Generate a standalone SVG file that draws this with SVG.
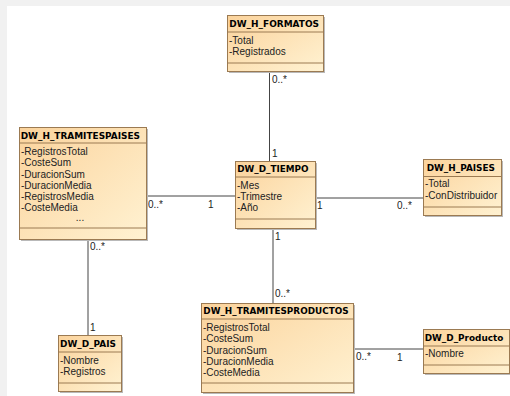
<svg xmlns="http://www.w3.org/2000/svg" width="510" height="396" viewBox="0 0 510 396">
<defs>
<linearGradient id="g" x1="0" y1="0" x2="1" y2="1">
<stop offset="0" stop-color="#fbd39c"/>
<stop offset="1" stop-color="#fff2d2"/>
</linearGradient>
</defs>
<style>
.box{fill:url(#g);stroke:#9b7a52;stroke-width:1}
.sh{fill:#b9b9b9}
.sep{stroke:#9b7a52;stroke-width:1}
.t{font-family:"DejaVu Sans",Verdana,sans-serif;font-size:9px;font-weight:bold;fill:#000}
.a{font-family:"Liberation Sans",Arial,sans-serif;font-size:10px;fill:#222}
.l{font-family:"Liberation Sans",Arial,sans-serif;font-size:10px;fill:#222}
.c{stroke:#444;stroke-width:1;fill:none}
</style>
<rect x="0" y="0" width="510" height="396" fill="#f1f1f1"/>
<rect x="7" y="6" width="503" height="390" fill="#ffffff"/>

<g id="connectors">
<line class="c" x1="269.5" y1="71" x2="269.5" y2="161"/>
<line class="c" x1="146" y1="196" x2="235" y2="196"/>
<line class="c" x1="315" y1="198" x2="423" y2="198"/>
<line class="c" x1="273" y1="228" x2="273" y2="303"/>
<line class="c" x1="88" y1="239" x2="88" y2="335"/>
<line class="c" x1="353" y1="349" x2="423" y2="349"/>
<text class="l" x="272" y="83">0..*</text>
<text class="l" x="272" y="157">1</text>
<text class="l" x="148" y="208">0..*</text>
<text class="l" x="208" y="208">1</text>
<text class="l" x="317" y="209">1</text>
<text class="l" x="397" y="209">0..*</text>
<text class="l" x="275" y="240">1</text>
<text class="l" x="275" y="297">0..*</text>
<text class="l" x="90" y="250">0..*</text>
<text class="l" x="90" y="331">1</text>
<text class="l" x="356" y="360">0..*</text>
<text class="l" x="397" y="361">1</text>
</g>

<g id="DW_H_FORMATOS">
<rect class="sh" x="229" y="17" width="96" height="56"/>
<rect class="box" x="227.5" y="15.5" width="96" height="56"/>
<line class="sep" x1="227.5" y1="32" x2="323.5" y2="32"/>
<line class="sep" x1="227.5" y1="63" x2="323.5" y2="63"/>
<text class="t" x="229.3" y="27" textLength="89.7" lengthAdjust="spacingAndGlyphs">DW_H_FORMATOS</text>
<text class="a" x="229" y="44">-Total</text>
<text class="a" x="229" y="55">-Registrados</text>
</g>

<g id="DW_H_TRAMITESPAISES">
<rect class="sh" x="21" y="129" width="127" height="112"/>
<rect class="box" x="19.5" y="127.5" width="127" height="112"/>
<line class="sep" x1="19.5" y1="143" x2="146.5" y2="143"/>
<line class="sep" x1="19.5" y1="228" x2="146.5" y2="228"/>
<text class="t" x="20.7" y="138.5" textLength="119.3" lengthAdjust="spacingAndGlyphs">DW_H_TRAMITESPAISES</text>
<text class="a" x="21" y="155">-RegistrosTotal</text>
<text class="a" x="21" y="166.3">-CosteSum</text>
<text class="a" x="21" y="177.5">-DuracionSum</text>
<text class="a" x="21" y="188.7">-DuracionMedia</text>
<text class="a" x="21" y="200">-RegistrosMedia</text>
<text class="a" x="21" y="211.2">-CosteMedia</text>
<text class="a" x="80" y="221" font-size="7" text-anchor="middle" fill="#666">...</text>
</g>

<g id="DW_D_TIEMPO">
<rect class="sh" x="237" y="163" width="80" height="67"/>
<rect class="box" x="235.5" y="161.5" width="80" height="67"/>
<line class="sep" x1="235.5" y1="177" x2="315.5" y2="177"/>
<line class="sep" x1="235.5" y1="219" x2="315.5" y2="219"/>
<text class="t" x="237.3" y="172" textLength="71.3" lengthAdjust="spacingAndGlyphs">DW_D_TIEMPO</text>
<text class="a" x="237" y="188.5">-Mes</text>
<text class="a" x="237" y="199.7">-Trimestre</text>
<text class="a" x="237" y="211">-Año</text>
</g>

<g id="DW_H_PAISES">
<rect class="sh" x="425" y="161" width="78" height="56"/>
<rect class="box" x="423.5" y="159.5" width="78" height="56"/>
<line class="sep" x1="423.5" y1="176.5" x2="501.5" y2="176.5"/>
<line class="sep" x1="423.5" y1="207" x2="501.5" y2="207"/>
<text class="t" x="426.7" y="170.5" textLength="68.3" lengthAdjust="spacingAndGlyphs">DW_H_PAISES</text>
<text class="a" x="425" y="187.3">-Total</text>
<text class="a" x="425" y="198.6">-ConDistribuidor</text>
</g>

<g id="DW_H_TRAMITESPRODUCTOS">
<rect class="sh" x="203" y="305" width="152" height="89"/>
<rect class="box" x="201.5" y="303.5" width="152" height="89"/>
<line class="sep" x1="201.5" y1="319" x2="353.5" y2="319"/>
<line class="sep" x1="201.5" y1="383" x2="353.5" y2="383"/>
<text class="t" x="203.3" y="314" textLength="145.3" lengthAdjust="spacingAndGlyphs">DW_H_TRAMITESPRODUCTOS</text>
<text class="a" x="203" y="331">-RegistrosTotal</text>
<text class="a" x="203" y="342.3">-CosteSum</text>
<text class="a" x="203" y="353.5">-DuracionSum</text>
<text class="a" x="203" y="364.7">-DuracionMedia</text>
<text class="a" x="203" y="375.8">-CosteMedia</text>
</g>

<g id="DW_D_PAIS">
<rect class="sh" x="60" y="337" width="63" height="56"/>
<rect class="box" x="58.5" y="335.5" width="63" height="56"/>
<line class="sep" x1="58.5" y1="352" x2="121.5" y2="352"/>
<line class="sep" x1="58.5" y1="383" x2="121.5" y2="383"/>
<text class="t" x="60" y="347" textLength="56" lengthAdjust="spacingAndGlyphs">DW_D_PAIS</text>
<text class="a" x="60" y="363.5">-Nombre</text>
<text class="a" x="60" y="375">-Registros</text>
</g>

<g id="DW_D_Producto">
<rect class="sh" x="425" y="331" width="86" height="44"/>
<rect class="box" x="423.5" y="329.5" width="86" height="44"/>
<line class="sep" x1="423.5" y1="346" x2="509.5" y2="346"/>
<line class="sep" x1="423.5" y1="365" x2="509.5" y2="365"/>
<text class="t" x="424.7" y="340.5" textLength="78.7" lengthAdjust="spacingAndGlyphs">DW_D_Producto</text>
<text class="a" x="425" y="357.3">-Nombre</text>
</g>
</svg>
